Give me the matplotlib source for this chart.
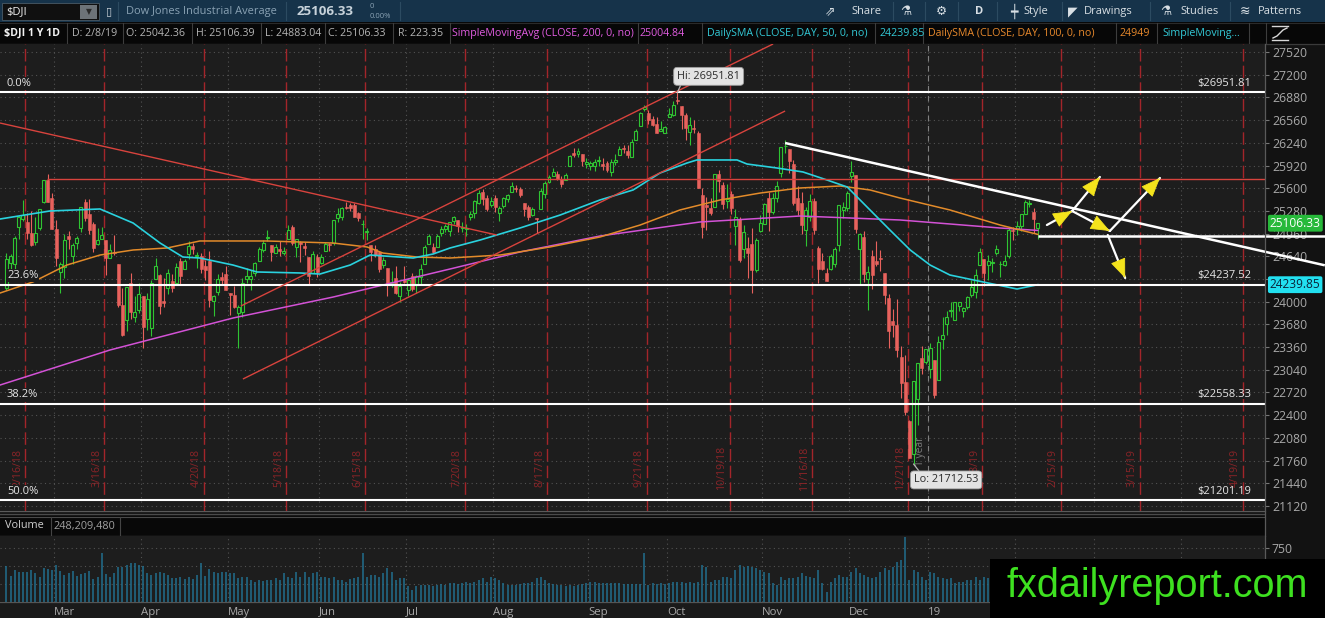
import matplotlib
matplotlib.use('Agg')
import matplotlib.pyplot as plt
import matplotlib.patches as mpatches
from matplotlib.lines import Line2D
import numpy as np
import pandas as pd

plt.rcParams['font.family'] = ['Open Sans', 'DejaVu Sans']

# ---------------- data ----------------
holidays = ['2018-02-19', '2018-03-30', '2018-05-28', '2018-07-04', '2018-09-03',
            '2018-11-22', '2018-12-05', '2018-12-25', '2019-01-01', '2019-01-21',
            '2019-02-18', '2019-04-19', '2019-05-27']
first_day = '2018-02-12'
last_axis_day = '2019-05-31'

opens = [24190, 24540, 24535, 25047, 25165, 25124, 24969, 24840, 25046, 25400, 25716, 25463,
         25025, 24420, 24485, 24931, 24646, 24822, 25035, 25400, 25240, 25096, 24816, 24877, 24876, 24619, 24704, 24525, 23958, 23741, 24262, 23790, 23880,
         24077, 23750, 23630, 24327, 24375, 24009, 24192, 24290, 24263, 24568, 24461, 24670, 24788, 24644, 24649, 24504, 24573, 24014, 24130, 24355, 24385,
         24117, 24098, 23836, 23857, 24318, 24317, 24399, 24575, 24733, 24898, 24806, 24692, 24741, 24689, 24883, 25048, 24776, 24846, 24786, 24635, 24401, 24627,
         24542, 24710, 24817, 24833, 25182, 25200, 25336, 25363, 25361, 25249, 25090, 24979, 24804, 24737, 24704, 24519, 24477, 24269, 24337, 24078, 24309,
         24161, 24369, 24237, 24346, 24526, 24820, 24777, 24769, 24963, 25019, 25001, 25136, 25155, 25044, 25020, 25187, 25244, 25393, 25550, 25461, 25368,
         25460, 25255, 25344, 25448, 25550, 25609, 25590, 25386, 25335, 25223, 25181, 25300, 25515, 25690, 25776, 25799, 25725, 25709, 25916, 26091, 26084, 26083, 25945,
         25916, 25920, 25980, 25938, 25955, 25822, 25965, 26071, 26160, 26131, 26036, 26275, 26480, 26720, 26660, 26576, 26507, 26413, 26385,
         26598, 26625, 26833, 26763, 26637, 26396, 26443, 26380, 25510, 25358, 25319, 25334, 25795, 25643, 25413, 25516, 25064, 25166, 24749, 24750, 24818, 24452, 25000,
         25100, 25461, 25262, 25464, 25817, 26189, 26148, 25942, 25456, 25389, 25004, 25200, 25425, 24761, 24570, 24409, 24468, 24534, 24796, 25296, 25319,
         25779, 25781, 24738, 24918, 24316, 24650, 24570, 24600, 24398, 24050, 23721, 23675, 23225, 22872, 22317, 21857, 22629, 23213, 23153,
         23058, 23177, 22895, 23475, 23680, 23864, 23739, 23940, 23865, 23929, 24100, 24135, 24523, 24608, 24515, 24547, 24686, 24526, 24524, 24640, 25016,
         25025, 25062, 25240, 25371, 25265, 25042.36]
highs = [24682, 24668, 24925, 25204, 25433, 25250, 25275, 25195, 25310, 25710, 25800, 25537,
         25150, 24560, 24951, 24994, 24824, 24928, 25335, 25449, 25450, 25117, 25035, 25049, 24876, 24816, 24935, 24526, 24200, 24206, 24404, 24085, 24270,
         24079, 24125, 24310, 24622, 24393, 24335, 24466, 24389, 24548, 24620, 24597, 24858, 24829, 24700, 24680, 24590, 24710, 24100, 24387, 24422, 24510,
         24117, 24226, 23951, 24330, 24479, 24441, 24554, 24767, 24865, 25012, 24806, 24818, 24852, 24772, 25087, 25086, 24887, 24852, 24839, 24635, 24712, 24667,
         24672, 24840, 24832, 25146, 25326, 25340, 25402, 25389, 25398, 25264, 25147, 25039, 24804, 24798, 24716, 24629, 24477, 24427, 24510, 24271, 24509,
         24328, 24402, 24371, 24530, 24800, 24948, 24827, 24948, 25063, 25100, 25130, 25215, 25155, 25129, 25090, 25281, 25428, 25577, 25584, 25498, 25478,
         25500, 25355, 25470, 25518, 25692, 25640, 25614, 25386, 25365, 25331, 25181, 25600, 25700, 25790, 25888, 25838, 25775, 25808, 26070, 26167, 26167, 26083, 26032,
         25985, 26010, 26048, 26019, 25990, 26010, 26080, 26200, 26203, 26205, 26300, 26430, 26670, 26769, 26699, 26617, 26600, 26551, 26478,
         26725, 26829, 26951.81, 26763, 26657, 26600, 26556, 26413, 25600, 25480, 25463, 25806, 25859, 25685, 25661, 25562, 25310, 25188, 25078, 24917, 25040, 24896, 25224,
         25398, 25545, 25526, 25697, 26180, 26277, 26148, 26003, 25634, 25552, 25331, 25523, 25465, 24790, 24686, 24474, 24670, 24774, 25366, 25408, 25561,
         25980, 25781, 24968, 25001, 24502, 24730, 24850, 24728, 24400, 24102, 23900, 24038, 23381, 23255, 22339, 22879, 23139, 23381, 23333,
         23413, 23177, 23518, 23788, 23865, 24002, 24002, 24002, 23925, 24082, 24309, 24457, 24750, 24608, 24653, 24623, 24794, 24568, 24652, 25045, 25049,
         25134, 25239, 25440, 25439, 25314, 25106.39]
lows = [24165, 24445, 24370, 24880, 25140, 24890, 24780, 24800, 25012, 25390, 25407, 25020,
        24497, 24117, 24329, 24736, 24538, 24747, 24989, 25140, 24955, 24706, 24797, 24877, 24375, 24609, 24652, 23928, 23510, 23592, 23760, 23710, 23840,
        23345, 23596, 23510, 24327, 23829, 23930, 24108, 24131, 24263, 24240, 24461, 24600, 24670, 24480, 24410, 24310, 23930, 23800, 24098, 24230, 24158,
        23809, 23918, 23344, 23786, 24263, 24167, 24364, 24575, 24704, 24855, 24577, 24687, 24651, 24653, 24883, 24800, 24625, 24560, 24654, 24247, 24401, 24353,
        24530, 24710, 24716, 24800, 25123, 25150, 25307, 25275, 25200, 25133, 24887, 24863, 24572, 24628, 24425, 24481, 24085, 24208, 24105, 23997, 24264,
        24085, 24151, 24128, 24233, 24526, 24820, 24680, 24769, 24932, 24987, 24929, 25096, 24978, 24977, 24925, 25150, 25175, 25380, 25366, 25278, 25330,
        25270, 25143, 25321, 25401, 25550, 25543, 25483, 25207, 25150, 25209, 24965, 25300, 25460, 25680, 25766, 25711, 25614, 25709, 25916, 26040, 26036, 25918, 25888,
        25850, 25848, 25911, 25850, 25830, 25777, 25934, 26071, 26094, 26030, 26036, 26275, 26480, 26691, 26500, 26474, 26374, 26400, 26383,
        26598, 26614, 26780, 26440, 26278, 26213, 26384, 25598, 24900, 25014, 25228, 25334, 25553, 25305, 25323, 25243, 24800, 24566, 24620, 24329, 24122, 24418, 24980,
        25100, 24999, 25241, 25405, 25760, 26092, 25811, 25364, 25219, 24952, 24782, 25136, 24960, 24269, 24445, 24286, 24451, 24493, 24714, 25174, 25282,
        25691, 24970, 24242, 24277, 23881, 24179, 24500, 24428, 23971, 23344, 23505, 23215, 22640, 22397, 21792, 21712.53, 22267, 22981, 23118,
        22931, 22639, 22895, 23338, 23530, 23789, 23737, 23870, 23790, 23900, 24068, 24059, 24512, 24218, 24307, 24413, 24662, 24348, 24498, 24618, 24871,
        24939, 24995, 25240, 25335, 24971, 24883.04]
closes = [24601, 24640, 24893, 25200, 25219, 24965, 24798, 24962, 25310, 25709, 25410, 25029,
          24609, 24538, 24875, 24884, 24801, 24895, 25336, 25179, 25007, 24758, 24874, 24947, 24611, 24727, 24682, 23958, 23533, 24203, 23858, 23848, 24103,
          23644, 24033, 24264, 24505, 23933, 23979, 24408, 24189, 24483, 24360, 24573, 24787, 24748, 24665, 24463, 24449, 24024, 24084, 24322, 24311, 24163,
          24099, 23925, 23930, 24263, 24357, 24360, 24543, 24740, 24831, 24899, 24706, 24769, 24714, 24715, 25013, 24834, 24887, 24812, 24753, 24361, 24668, 24416,
          24635, 24814, 24800, 25146, 25241, 25317, 25322, 25321, 25201, 25175, 25090, 24987, 24700, 24658, 24462, 24581, 24253, 24283, 24118, 24216, 24271,
          24307, 24175, 24357, 24456, 24777, 24920, 24700, 24925, 25019, 25064, 25120, 25199, 25065, 25058, 25044, 25242, 25414, 25527, 25451, 25307, 25415,
          25334, 25326, 25463, 25502, 25629, 25584, 25509, 25313, 25188, 25300, 25162, 25559, 25669, 25759, 25822, 25734, 25657, 25790, 26050, 26064, 26125, 25987, 25965,
          25952, 25975, 25996, 25917, 25857, 25971, 25999, 26146, 26155, 26062, 26247, 26406, 26657, 26744, 26562, 26492, 26385, 26440, 26458,
          26651, 26774, 26828, 26627, 26447, 26487, 26431, 25599, 25053, 25340, 25251, 25798, 25707, 25379, 25444, 25317, 25191, 24583, 24985, 24688, 24443, 24875, 25116,
          25381, 25271, 25462, 25635, 26180, 26191, 25989, 25387, 25286, 25081, 25289, 25413, 25017, 24466, 24465, 24286, 24640, 24749, 25366, 25339, 25538,
          25826, 25027, 24948, 24389, 24423, 24370, 24527, 24597, 24101, 23593, 23676, 23324, 22860, 22445, 21792, 22878, 23139, 23062, 23327,
          23346, 22686, 23433, 23531, 23787, 23879, 24002, 23996, 23910, 24066, 24207, 24370, 24706, 24404, 24576, 24553, 24737, 24528, 24580, 25015, 25000,
          25064, 25239, 25412, 25390, 25170, 25106.33]
volumes_m = [500, 360, 444, 420, 420, 420, 444, 397, 350, 467,
             453, 444, 514, 434, 374, 397, 434, 360, 383, 397,
             434, 313, 350, 686, 383, 350, 406, 481, 481, 514,
             537, 546, 514, 500, 397, 374, 397, 420, 397, 374,
             327, 327, 350, 313, 350, 313, 374, 537, 360, 453,
             420, 406, 420, 420, 397, 397, 327, 350, 350, 304,
             280, 304, 294, 304, 304, 327, 304, 397, 350, 327,
             420, 350, 420, 350, 397, 420, 350, 350, 327, 350,
             304, 304, 280, 313, 327, 341, 686, 350, 374, 374,
             350, 397, 467, 420, 304, 327, 327, 220, 163, 220,
             234, 234, 234, 220, 234, 248, 234, 257, 257, 248,
             266, 280, 257, 280, 304, 327, 280, 350, 327, 304,
             257, 234, 234, 234, 248, 257, 257, 280, 327, 350,
             304, 257, 248, 234, 234, 220, 234, 220, 234, 248,
             257, 280, 280, 257, 266, 257, 257, 266, 257, 248,
             248, 248, 248, 248, 686, 234, 257, 248, 257, 248,
             257, 280, 280, 280, 266, 280, 257, 280, 514, 490,
             280, 304, 304, 350, 350, 327, 444, 514, 490, 500,
             490, 467, 444, 420, 397, 257, 234, 350, 304, 327,
             327, 350, 397, 360, 350, 327, 444, 266, 140, 280,
             327, 374, 350, 350, 420, 467, 397, 374, 350, 327,
             350, 420, 467, 444, 490, 560, 584, 910, 304, 444,
             420, 350, 304, 420, 397, 350, 327, 313, 327, 257,
             280, 280, 304, 304, 350, 304, 350, 330, 310, 300,
             290, 320, 310, 340, 300, 290, 310, 300, 290, 248.2]

# moving averages (trading-day position, value)
sma50_pos = [-1.5, 10.5, 22.6, 30.6, 37.1, 42.6, 46.7, 54.7, 60.5, 70.9, 75.7, 83.0, 87.8, 98.2, 103.0, 107.1,
             114.4, 124.0, 133.7, 143.3, 151.3, 157.8, 164.3, 166.7, 176.4, 178.8, 186.0, 192.3, 198.1, 203.0,
             208.5, 213.3, 218.2, 223.0, 227.8, 235.8, 244.0, 249.0]
sma50_val = [25166, 25279, 25307, 25109, 24827, 24630, 24616, 24517, 24419, 24405, 24390, 24517, 24658, 24616, 24672, 24757,
             24870, 25039, 25222, 25434, 25575, 25814, 25955, 25998, 25998, 25941, 25885, 25829, 25716, 25617,
             25293, 25011, 24729, 24517, 24376, 24278, 24179, 24239.85]
sma100_pos = [-1.5, 6.4, 14.6, 22.6, 30.6, 38.8, 46.7, 62.9, 78.9, 87.1, 90.9, 99.1, 107.1, 119.2, 131.2, 143.3,
              153.0, 162.6, 172.3, 182.0, 191.6, 201.3, 208.5, 215.7, 227.8, 239.9, 249.0]
sma100_val = [24123, 24278, 24517, 24658, 24729, 24757, 24856, 24856, 24827, 24771, 24686, 24630, 24616, 24658, 24771, 24912,
              25081, 25293, 25434, 25532, 25603, 25631, 25575, 25462, 25293, 25081, 24949]
sma200_pos = [-1.5, 25.0, 54.7, 78.9, 95.0, 107.1, 124.0, 143.3, 167.5, 191.6, 215.7, 239.9, 249.0]
sma200_val = [22826, 23319, 23770, 24066, 24292, 24461, 24701, 24926, 25124, 25208, 25152, 25039, 25004.84]

fib_levels = [26951.81, 24237.52, 22558.33, 21201.19]
fib_names = ['0.0%', '23.6%', '38.2%', '50.0%']

expiry_dates = ['2018-02-16', '2018-03-16', '2018-04-20', '2018-05-18', '2018-06-15', '2018-07-20',
                '2018-08-17', '2018-09-21', '2018-10-19', '2018-11-16', '2018-12-21', '2019-01-18',
                '2019-02-15', '2019-03-15', '2019-04-19']
expiry_labels = ['2/16/18', '3/16/18', '4/20/18', '5/18/18', '6/15/18', '7/20/18', '8/17/18', '9/21/18',
                 '10/19/18', '11/16/18', '12/21/18', '1/18/19', '2/15/19', '3/15/19', '4/19/19']
month_starts = ['2018-03', '2018-04', '2018-05', '2018-06', '2018-07', '2018-08', '2018-09', '2018-10',
                '2018-11', '2018-12', '2019-01', '2019-02', '2019-03', '2019-04']
month_labels = ['Mar', 'Apr', 'May', 'Jun', 'Jul', 'Aug', 'Sep', 'Oct', 'Nov', 'Dec', '19', 'Feb', 'Mar', 'Apr']

# user drawings (trading-day position, price)
red_down_line = [(-1.55, 26519), (118.4, 24940)]
red_level = [(9.8, 25730), (303.9, 25730)]
channel_upper = [(56.6, 23939), (185.1, 27633)]
channel_lower = [(57.1, 22910), (188.0, 26688)]
white_trend = [(188.0, 26237), (318.3, 24513)]
white_level = [(249.0, 24926), (318.3, 24926)]
arrows = [((251.2, 25081), (257.3, 25278)),
          ((257.3, 25278), (264.0, 25758)),
          ((257.3, 25278), (266.4, 24997)),
          ((266.4, 24997), (278.5, 25744)),
          ((265.9, 24940), (270.1, 24334))]

# ---------------- style ----------------
W, H = 1325, 618
BG = '#1d1d1d'
GREEN = '#2fc432'
RED = '#e8625d'
CYAN = '#2ad2de'
ORANGE = '#e38b2a'
MAGENTA = '#d352d6'
VOLC = '#216f8e'
EXPRED = '#a3252a'
GRIDC = '#525252'
YELLOW = '#f4e41c'
AXTXT = '#a8a8a8'

fig = plt.figure(figsize=(W / 100, H / 100), dpi=100, facecolor='#1a1a1a')


def fx(x):
    return x / W


def fy(y):
    return 1 - y / H


def frect(x0, y0, x1, y1, color, z=-5, ec='none', lw=0):
    fig.patches.append(mpatches.Rectangle((fx(x0), fy(y1)), (x1 - x0) / W, (y1 - y0) / H,
                                          transform=fig.transFigure, facecolor=color,
                                          edgecolor=ec, lw=lw, zorder=z))


def fline(xs, ys, color, lw=1.0, z=-4):
    fig.lines.append(Line2D([fx(v) for v in xs], [fy(v) for v in ys], transform=fig.transFigure,
                            color=color, lw=lw, zorder=z))


def ftext(x, y, s, **kw):
    kw.setdefault('va', 'center')
    kw.setdefault('ha', 'left')
    fig.text(fx(x), fy(y), s, **kw)


days = pd.bdate_range(first_day, last_axis_day, freq='C', holidays=holidays)
n = min(len(opens), len(highs), len(lows), len(closes), len(volumes_m))
idx = np.arange(n)
o = np.array(opens[:n], float)
h = np.array(highs[:n], float)
l = np.array(lows[:n], float)
c = np.array(closes[:n], float)
v = np.array(volumes_m[:n], float)

XL = (-1.545, 303.86)
YL = (21049.5, 27632.8)

# ---------- background blocks ----------
frect(0, 0, W, 22, '#16334a')
frect(0, 22, W, 44, '#070707')
frect(1265, 44, W, 618, '#121212')
frect(0, 511, 1265, 516, '#161616')
frect(0, 516, 1265, 536, '#080808')

# ---------- main price axes ----------
ax = fig.add_axes([0, fy(511), 1265 / W, (511 - 44) / H])
ax.set_facecolor(BG)
ax.set_xlim(*XL)
ax.set_ylim(*YL)
for s in ax.spines.values():
    s.set_visible(False)

month_pos = [days.searchsorted(pd.Timestamp(m + '-01')) - 0.5 for m in month_starts]
ax.set_xticks(month_pos)
ax.set_xticklabels([])
ax.tick_params(axis='x', length=0)
price_ticks = list(range(21120, 27521, 320))
ax.set_yticks(price_ticks)
# the 24320 label sits fully under the 50-day badge in the reference
ax.set_yticklabels(['' if t == 24320 else str(t) for t in price_ticks])
ax.yaxis.tick_right()
ax.tick_params(axis='y', length=3, color='#777777', labelcolor=AXTXT, labelsize=8.8, pad=2)
ax.grid(True, linestyle=(0, (1, 3)), color=GRIDC, lw=0.8, zorder=0)
ax.set_axisbelow(True)

# expiration lines
for d, lab in zip(expiry_dates, expiry_labels):
    xe = days.searchsorted(pd.Timestamp(d)) + 0.6
    ax.axvline(xe, color=EXPRED, lw=1.0, linestyle=(0, (9, 3)), zorder=1)
    ax.annotate(lab, xy=(xe, 21650), xytext=(-1.5, 0), textcoords='offset points', rotation=90,
                ha='right', va='center', color='#8c2428', fontsize=7.6, zorder=1)
# year line
yx = days.searchsorted(pd.Timestamp('2019-01-01')) - 0.5
ax.axvline(yx, color='#808080', lw=0.8, linestyle=(0, (5, 4)), zorder=1)
ax.annotate('1 year', xy=(yx, 21890), xytext=(-1.5, 0), textcoords='offset points', rotation=90,
            ha='right', va='center', color='#7a7a7a', fontsize=7.4, zorder=1)

# candles
up = c >= o
ax.vlines(idx[up], l[up], h[up], color=GREEN, lw=0.8, zorder=3)
ax.vlines(idx[~up], l[~up], h[~up], color=RED, lw=0.8, zorder=3)
bb = np.minimum(o, c)
bh = np.maximum(np.abs(c - o), 12)
ax.bar(idx[up], bh[up], bottom=bb[up], width=0.72, facecolor=BG, edgecolor=GREEN, linewidth=0.8, zorder=3.5)
ax.bar(idx[~up], bh[~up], bottom=bb[~up], width=0.72, color=RED, edgecolor=RED, linewidth=0.4, zorder=3.5)

# moving averages
ax.plot(sma200_pos, sma200_val, color=MAGENTA, lw=1.1, zorder=4)
ax.plot(sma100_pos, sma100_val, color=ORANGE, lw=1.1, zorder=4)
ax.plot(sma50_pos, sma50_val, color=CYAN, lw=1.2, zorder=4)

# fibonacci levels
for lv, nm in zip(fib_levels, fib_names):
    ax.axhline(lv, color='white', lw=1.5, zorder=5)
    ax.annotate(nm, xy=(0, lv), xycoords=('axes fraction', 'data'), xytext=(5, 2.5),
                textcoords='offset points', ha='left', va='bottom', color='#e6e6e6', fontsize=8, zorder=6,
                bbox=dict(boxstyle='square,pad=0.1', fc=BG, ec='none'))
    ax.annotate('$%.2f' % lv, xy=(1251 / 1265, lv), xycoords=('axes fraction', 'data'), xytext=(0, 2.5),
                textcoords='offset points', ha='right', va='bottom', color='#e6e6e6', fontsize=8, zorder=6)


def seg(pts, color, lw, z=5, clip=True):
    ax.plot([p[0] for p in pts], [p[1] for p in pts], color=color, lw=lw, zorder=z,
            clip_on=clip, solid_capstyle='butt')


seg(red_down_line, '#d8433d', 1.0)
seg(red_level, '#d8433d', 1.0)
seg(channel_upper, '#d8433d', 1.0)
seg(channel_lower, '#d8433d', 1.0)
seg(white_trend, 'white', 1.8, z=6, clip=False)
seg(white_level, 'white', 1.8, z=6, clip=False)

px_per_idx = 1265 / (XL[1] - XL[0])
px_per_price = (511 - 44) / (YL[1] - YL[0])
for p0, p1 in arrows:
    ax.plot([p0[0], p1[0]], [p0[1], p1[1]], color='white', lw=1.6, zorder=7, solid_capstyle='round')
    dxp = (p1[0] - p0[0]) * px_per_idx
    dyp = (p1[1] - p0[1]) * px_per_price
    L = np.hypot(dxp, dyp)
    f = min(1.0, 3.0 / L)
    q = (p1[0] - (p1[0] - p0[0]) * f, p1[1] - (p1[1] - p0[1]) * f)
    ax.annotate('', xy=p1, xytext=q,
                arrowprops=dict(arrowstyle='-|>,head_length=1.25,head_width=0.5', fc=YELLOW, ec=YELLOW,
                                lw=0.6, shrinkA=0, shrinkB=0), zorder=8)

# Hi / Lo labels
hi_i = int(np.argmax(h))
lo_i = int(np.argmin(l))
ax.annotate('Hi: %.2f' % h[hi_i], xy=(hi_i, h[hi_i]), xytext=(22.5, 11.5), textcoords='offset points',
            ha='center', va='center', fontsize=7.8, color='#2b2b2b', zorder=9,
            bbox=dict(boxstyle='round,pad=0.32', fc='#e3e3e3', ec='#9c9c9c', lw=0.6),
            arrowprops=dict(arrowstyle='-', color='#b5b5b5', lw=0.9, shrinkA=0, shrinkB=0, relpos=(0.08, 0.0)))
ax.annotate('Lo: %.2f' % l[lo_i], xy=(lo_i, l[lo_i]), xytext=(23.5, -11.5), textcoords='offset points',
            ha='center', va='center', fontsize=7.8, color='#2b2b2b', zorder=9,
            bbox=dict(boxstyle='round,pad=0.32', fc='#e3e3e3', ec='#9c9c9c', lw=0.6),
            arrowprops=dict(arrowstyle='-', color='#b5b5b5', lw=0.9, shrinkA=0, shrinkB=0, relpos=(0.12, 1.0)))

# price badges
ax.annotate('%.2f' % c[-1], xy=(1, c[-1]), xycoords=('axes fraction', 'data'), xytext=(3.5, 0),
            textcoords='offset points', ha='left', va='center', fontsize=8.6, color='white', zorder=12,
            bbox=dict(boxstyle='round,pad=0.16', fc='#27b93a', ec='none'), annotation_clip=False)
ax.annotate('%.2f' % sma50_val[-1], xy=(1, sma50_val[-1]), xycoords=('axes fraction', 'data'), xytext=(3.5, 0),
            textcoords='offset points', ha='left', va='center', fontsize=8.6, color='#0b2438', zorder=12,
            bbox=dict(boxstyle='round,pad=0.16', fc='#22e0f0', ec='none'), annotation_clip=False)

# ---------- volume axes ----------
axv = fig.add_axes([0, fy(601.7), 1265 / W, (601.7 - 536) / H])
axv.set_facecolor(BG)
axv.set_xlim(*XL)
axv.set_ylim(0, 923)
for s in axv.spines.values():
    s.set_visible(False)
axv.vlines(idx, 0, v, color=VOLC, lw=1.1, zorder=3)
axv.set_yticks([250, 500, 750])
axv.set_yticklabels(['', '', '750'])
axv.yaxis.tick_right()
axv.tick_params(axis='y', length=3, color='#777777', labelcolor=AXTXT, labelsize=8.8, pad=2)
axv.set_xticks(month_pos)
axv.set_xticklabels(month_labels, ha='left')
axv.tick_params(axis='x', length=0, pad=3.5, labelcolor=AXTXT, labelsize=8.2)
axv.grid(True, linestyle=(0, (1, 3)), color=GRIDC, lw=0.8, zorder=0)
axv.set_axisbelow(True)

# ---------- frame lines ----------
fline([0, 1265], [511, 511], '#5a5a5a', 0.9)
fline([0, 1265], [514, 514], '#4a4a4a', 0.8)
fline([0, 1265], [516.5, 516.5], '#4a4a4a', 0.8)
fline([0, 1265], [536, 536], '#555555', 0.9)
fline([0, 1265], [602, 602], '#555555', 0.9)
fline([1265, 1265], [44, 602], '#5a5a5a', 0.9, z=5)
fline([0, W], [44, 44], '#3a3a3a', 0.9)
fline([0, W], [22.5, 22.5], '#2a2a2a', 0.8)

# volume header
fline([50.5, 50.5], [517, 535], '#444444', 0.8)
fline([120, 120], [517, 535], '#444444', 0.8)
ftext(5, 526, 'Volume', color='#d0d0d0', fontsize=7.8)
ftext(54, 526, '248,209,480', color='#a0a0a0', fontsize=7.8)

# ---------- toolbar ----------
frect(2, 3, 99, 20, '#101010', z=-3, ec='#4a5a66', lw=0.6)
frect(80, 4.5, 97, 18.5, '#6d7378', z=-2)
ftext(88.5, 11.5, '▼', color='#2a2a2a', fontsize=5.5, ha='center', family=['DejaVu Sans'])
ftext(6, 11.5, '$DJI', color='#f0f0f0', fontsize=8)
ftext(109, 11.5, '▯', color='#c8d0d6', fontsize=8, ha='center', family=['DejaVu Sans'])
for xs in (118, 286, 400):
    fline([xs, xs], [2, 20], '#2c4b61', 0.8)
ftext(126, 11.5, 'Dow Jones Industrial Average', color='#8aa2b4', fontsize=7.9)
ftext(297, 11.5, '25106.33', color='#c7d2da', fontsize=9.6, weight='bold')
ftext(370, 7, '0', color='#8aa2b4', fontsize=5.5)
ftext(370, 16, '0.00%', color='#8aa2b4', fontsize=5.5)

tool_items = [(830, '⇗', ''), (851, None, 'Share'), (906, '⚗', ''), (941, '⚙', ''), (979, None, 'D'),
              (1014, '┿', ''), (1023, None, 'Style'), (1073, '◤', ''), (1084, None, 'Drawings'),
              (1166, '⚗', ''), (1180, None, 'Studies'), (1245, '≋', ''), (1258, None, 'Patterns')]
for xt, icon, label in tool_items:
    if icon is not None:
        ftext(xt, 11.5, icon, color='#d8dfe4', fontsize=9, ha='center', family=['DejaVu Sans'])
    else:
        ftext(xt, 11.5, label, color='#d8dfe4', fontsize=8, weight='bold' if label == 'D' else 'normal',
              ha='center' if label == 'D' else 'left')
for xs in (893, 925, 958, 997, 1062, 1150, 1230):
    fline([xs, xs], [2, 20], '#2c4b61', 0.8)

# ---------- info bar ----------
info_cells = [(4, '$DJI 1 Y 1D', '#f2f2f2', 'bold'), (72, 'D: 2/8/19', '#b5b5b5', 'normal'),
              (126, 'O: 25042.36', '#b5b5b5', 'normal'), (196, 'H: 25106.39', '#b5b5b5', 'normal'),
              (265, 'L: 24883.04', '#b5b5b5', 'normal'), (328, 'C: 25106.33', '#b5b5b5', 'normal'),
              (398, 'R: 223.35', '#b5b5b5', 'normal'),
              (452, 'SimpleMovingAvg (CLOSE, 200, 0, no)', '#e05ce0', 'normal'),
              (640, '25004.84', '#e05ce0', 'normal'),
              (707, 'DailySMA (CLOSE, DAY, 50, 0, no)', '#33c9d6', 'normal'),
              (880, '24239.85', '#33c9d6', 'normal'),
              (928, 'DailySMA (CLOSE, DAY, 100, 0, no)', '#e8892c', 'normal'),
              (1120, '24949', '#e8892c', 'normal'),
              (1162, 'SimpleMoving...', '#33c9d6', 'normal')]
for xt, s, col, wt in info_cells:
    ftext(xt, 33.5, s, color=col, fontsize=7.7, weight=wt)
for xs in (67, 123, 192, 261, 325, 393, 450, 638, 702, 875, 923, 1116, 1157, 1249, 1266):
    fline([xs, xs], [23, 43], '#3d3d3d', 0.8)
fline([1272, 1288], [26, 26], '#d8d8d8', 1.0)
fline([1272, 1288], [40, 40], '#d8d8d8', 1.0)
fline([1273, 1277, 1283, 1287], [38, 36, 30, 28], '#d8d8d8', 1.0)

# ---------- watermark ----------
frect(990, 559, W, H, '#000000', z=50)
fig.text(fx(1157), fy(586), 'fxdailyreport.com', color='#3ee020', fontsize=28.5,
         family=['Liberation Sans', 'DejaVu Sans'], ha='center', va='center', zorder=51)

fig.savefig('out.png', dpi=100, facecolor=fig.get_facecolor())
